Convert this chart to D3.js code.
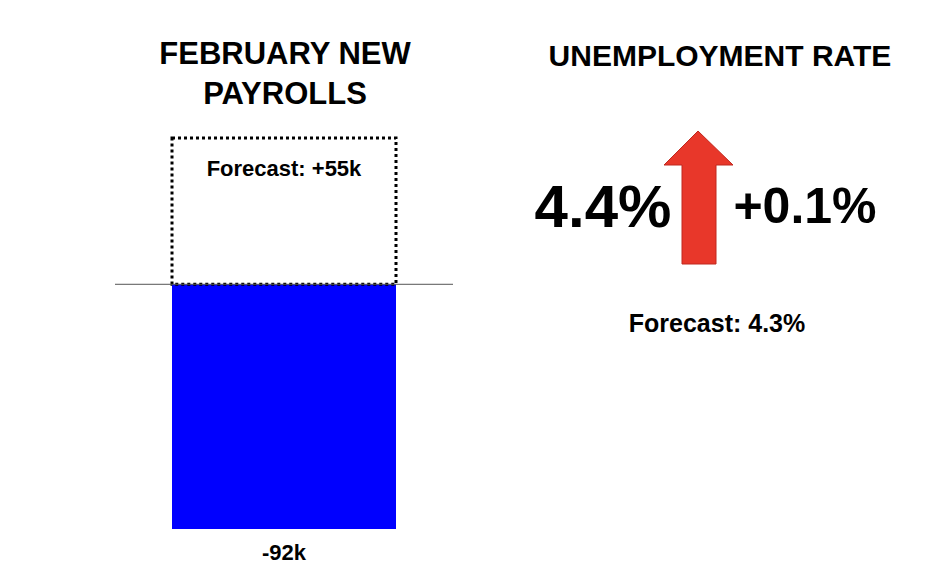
<!DOCTYPE html>
<html><head><meta charset="utf-8">
<script src="https://cdn.jsdelivr.net/npm/d3@7"></script>
<style>body{margin:0;background:#fff}text{font-family:"Liberation Sans Narrow","Arial Narrow","Liberation Sans",sans-serif;font-weight:bold;fill:#000}</style>
</head><body><div id="canvas"></div>
<script>
// data
const payrollLabels = ["Actual", "Forecast"];
const payrollValues = [-92, 55];
const payrollText = ["-92k", "Forecast: +55k"];
const rateActual = "4.4%";
const rateChange = "+0.1%";
const rateForecast = "Forecast: 4.3%";

const width = 952, height = 576;
const svg = d3.select("#canvas").append("svg").attr("width", width).attr("height", height);

// payroll panel
const y = d3.scaleLinear().domain([-92, 55]).range([529, 138]);
const x = d3.scaleBand().domain(["col"]).range([172, 396]);

svg.append("text").attr("x", 285).attr("y", 64).attr("text-anchor", "middle").attr("font-size", 31).text("FEBRUARY NEW");
svg.append("text").attr("x", 285).attr("y", 104).attr("text-anchor", "middle").attr("font-size", 31).text("PAYROLLS");

svg.append("rect")
	.attr("x", x("col")).attr("width", x.bandwidth())
	.attr("y", y(0)).attr("height", y(payrollValues[0]) - y(0))
	.attr("fill", "#0000ff");

svg.append("rect")
	.attr("x", x("col")).attr("width", x.bandwidth())
	.attr("y", y(payrollValues[1])).attr("height", y(0) - y(payrollValues[1]))
	.attr("fill", "none").attr("stroke", "#000").attr("stroke-width", 3).attr("stroke-dasharray", "3,3");

svg.append("line").attr("x1", 115).attr("x2", 453).attr("y1", y(0)).attr("y2", y(0)).attr("stroke", "#555").attr("stroke-width", 1);

svg.append("text").attr("x", 284).attr("y", y(payrollValues[1]) + 38).attr("text-anchor", "middle").attr("font-size", 22).text(payrollText[1]);
svg.append("text").attr("x", 284).attr("y", y(payrollValues[0]) + 31).attr("text-anchor", "middle").attr("font-size", 22).text(payrollText[0]);

// unemployment panel
svg.append("text").attr("x", 720).attr("y", 66).attr("text-anchor", "middle").attr("font-size", 30).text("UNEMPLOYMENT RATE");
svg.append("text").attr("x", 603).attr("y", 227).attr("text-anchor", "middle").attr("font-size", 60).text(rateActual);
svg.append("text").attr("x", 805).attr("y", 223).attr("text-anchor", "middle").attr("font-size", 50).text(rateChange);
svg.append("text").attr("x", 717).attr("y", 332).attr("text-anchor", "middle").attr("font-size", 25).text(rateForecast);

const arrow = d3.line()([[698,131],[733,165],[716,165],[716,264],[682,264],[682,165],[664,165]]);
svg.append("path").attr("d", arrow + "Z").attr("fill", "#e8372a").attr("stroke", "#c0281e").attr("stroke-width", 1);
</script></body></html>
